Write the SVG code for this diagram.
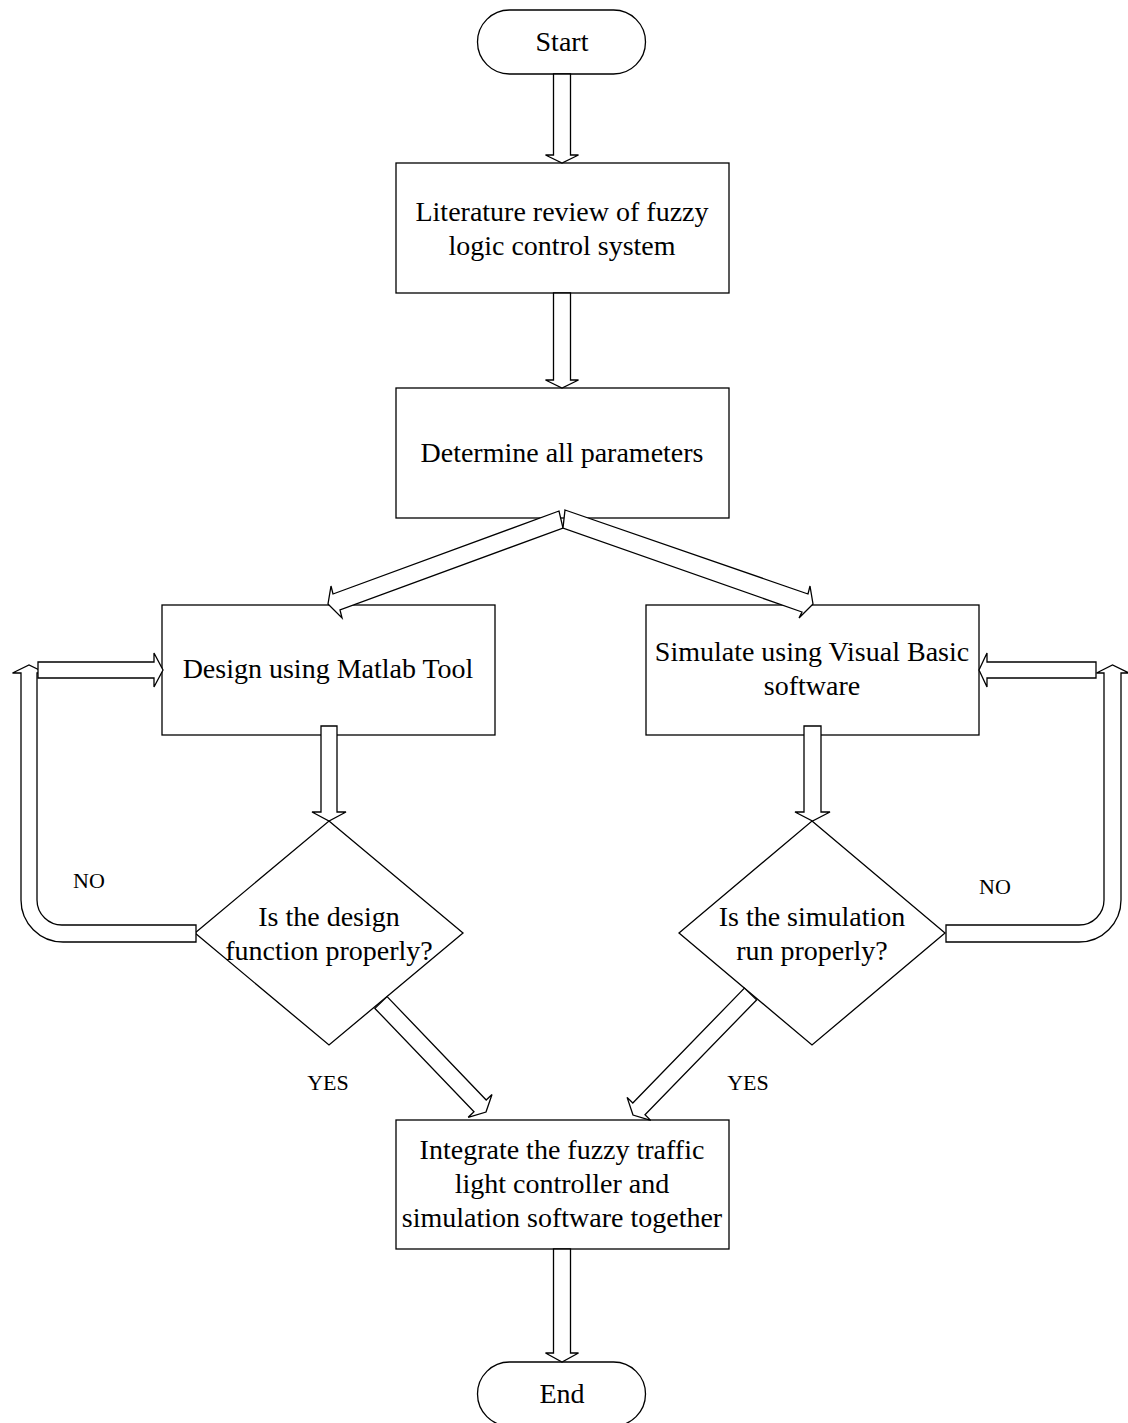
<svg xmlns="http://www.w3.org/2000/svg" width="1128" height="1423" viewBox="0 0 1128 1423">
<style>
.n{fill:#fff;stroke:#000;stroke-width:1.3}
.c{fill:#fff;stroke:#000;stroke-width:1.3;stroke-linejoin:miter}
.t{font-family:"Liberation Serif","Times New Roman",serif;font-size:28px;fill:#000;text-anchor:middle}
.s{font-family:"Liberation Serif","Times New Roman",serif;font-size:22px;fill:#000;text-anchor:middle}
</style>
<rect width="1128" height="1423" fill="#fff"/>
<g id="start"><rect class="n" x="477.5" y="10" width="168" height="64" rx="32" ry="32"/><text class="t" x="562" y="51">Start</text></g>
<g id="literature"><rect class="n" x="396" y="163" width="333" height="130"/><text class="t" x="562" y="221">Literature review of fuzzy</text><text class="t" x="562" y="255">logic control system</text></g>
<g id="parameters"><rect class="n" x="396" y="388" width="333" height="130"/><text class="t" x="562" y="462">Determine all parameters</text></g>
<g id="design"><rect class="n" x="162" y="605" width="333" height="130"/><text class="t" x="328" y="678">Design using Matlab Tool</text></g>
<g id="simulate"><rect class="n" x="646" y="605" width="333" height="130"/><text class="t" x="812" y="661">Simulate using Visual Basic</text><text class="t" x="812" y="695">software</text></g>
<g id="decision1"><polygon class="n" points="329,821 463,933 329,1045 195,933"/><text class="t" x="329" y="926">Is the design</text><text class="t" x="329" y="960">function properly?</text></g>
<g id="decision2"><polygon class="n" points="812,821 945,933 812,1045 679,933"/><text class="t" x="812" y="926">Is the simulation</text><text class="t" x="812" y="960">run properly?</text></g>
<g id="integrate"><rect class="n" x="396" y="1120" width="333" height="129"/><text class="t" x="562" y="1159">Integrate the fuzzy traffic</text><text class="t" x="562" y="1193">light controller and</text><text class="t" x="562" y="1227">simulation software together</text></g>
<g id="end"><rect class="n" x="477.5" y="1362" width="168" height="64" rx="32" ry="32"/><text class="t" x="562" y="1403">End</text></g>
<g id="connectors">
<polygon class="c" points="553.5,74 553.5,155 545.5,155 562,163 578.5,155 570.5,155 570.5,74"/>
<polygon class="c" points="553.5,293 553.5,380 545.5,380 562,388 578.5,380 570.5,380 570.5,293"/>
<polygon class="c" points="559,511 333,594 331,586 328,604 342,618 340,610 563,528"/>
<polygon class="c" points="565,510 808,594 810,586 813,604 799,618 802,612 563,528"/>
<polygon class="c" points="321,726 321,812 312,812 329,821 346,812 337,812 337,726"/>
<polygon class="c" points="804,726 804,812 795,812 812.5,821 830,812 821,812 821,726"/>
<polygon class="c" points="387.1,996.6 486.2,1100 492,1094.5 486,1112 468.2,1117.3 474,1111.8 374.9,1008.4"/>
<polygon class="c" points="744.4,988.1 632.8,1103 627.1,1097.4 633,1115 650.7,1120.4 645,1114.8 756.6,999.9"/>
<polygon class="c" points="553.5,1249 553.5,1353 545.5,1353 562,1362 578.5,1353 570.5,1353 570.5,1249"/>
<path class="c" d="M196,925 L63,925 A25,25 0 0 1 37,900 L37,673 L45.5,673 L29,665 L12.5,673 L21,673 L21,900 A42,42 0 0 0 63,942 L196,942 Z"/>
<polygon class="c" points="38,662 154,662 154,653 163,670 154,687 154,678 38,678"/>
<path class="c" d="M946,925 L1079,925 A25,25 0 0 0 1104,900 L1104,673 L1096.5,673 L1112.5,665 L1129,673 L1121,673 L1121,900 A42,42 0 0 1 1079,942 L946,942 Z"/>
<polygon class="c" points="1096,662 987,662 987,653 979,670 987,687 987,678 1096,678"/>
</g>
<text class="s" x="89" y="888">NO</text>
<text class="s" x="995" y="894">NO</text>
<text class="s" x="328" y="1090">YES</text>
<text class="s" x="748" y="1090">YES</text>
</svg>
